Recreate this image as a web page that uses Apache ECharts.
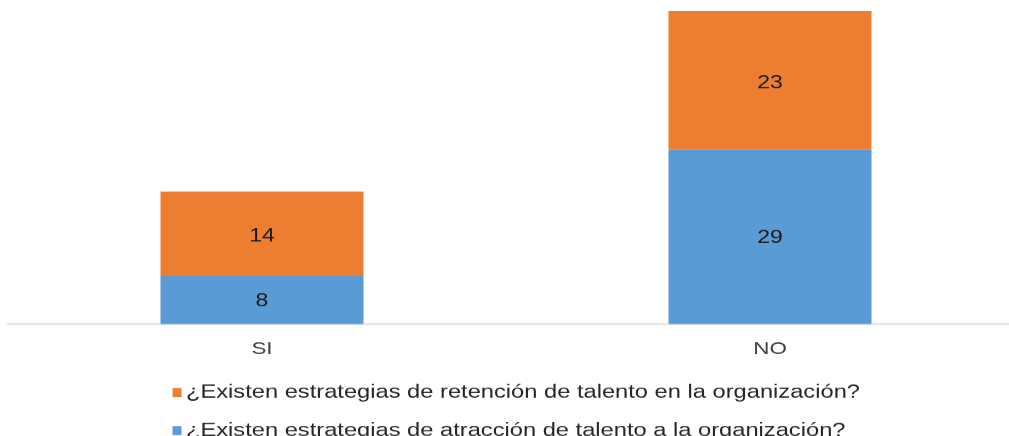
<!DOCTYPE html>
<html>
<head>
<meta charset="utf-8">
<script src="https://cdn.jsdelivr.net/npm/echarts@6/dist/echarts.min.js"></script>
<style>
  html, body { margin: 0; padding: 0; background: #ffffff; overflow: hidden; }
  body { width: 1009px; height: 436px; }
  /* the chart is laid out narrow and widened horizontally */
  #chart { width: 800px; height: 436px; transform: scaleX(1.28); transform-origin: 0 0; }
</style>
</head>
<body>
<div id="chart"></div>
<script>
// Categories and stacked counts
const categories = ['SI', 'NO'];
const atraccion = [8, 29];   // ¿Existen estrategias de atracción de talento a la organización?
const retencion = [14, 23];  // ¿Existen estrategias de retención de talento en la organización?
const seriesNames = [
  '¿Existen estrategias de atracción de talento a la organización?',
  '¿Existen estrategias de retención de talento en la organización?'
];

const FONT = '"Liberation Sans", Arial, sans-serif';
const legendText = { fontFamily: FONT, fontSize: 18.5, color: '#262626', padding: [0, 0, 0, -1.5] };

const chart = echarts.init(document.getElementById('chart'), null, { devicePixelRatio: 1.28 });
chart.setOption({
  animation: false,
  textStyle: { fontFamily: FONT },
  grid: { left: 6.25, top: 11, right: 0, bottom: 112, containLabel: false },
  legend: [
    {
      left: 129.8, top: 378, itemWidth: 7, itemHeight: 9, icon: 'rect',
      data: [seriesNames[1]], textStyle: legendText
    },
    {
      left: 129.8, top: 416, itemWidth: 7, itemHeight: 9, icon: 'rect',
      data: [seriesNames[0]], textStyle: legendText
    }
  ],
  xAxis: {
    type: 'category',
    data: categories,
    axisLine: { lineStyle: { color: '#e3e3e3', width: 2 } },
    axisTick: { show: false },
    axisLabel: { fontFamily: FONT, fontSize: 17.5, color: '#404040', margin: 16 }
  },
  yAxis: {
    type: 'value',
    min: 0,
    max: 52,
    show: false,
    splitLine: { show: false }
  },
  series: [
    {
      name: seriesNames[0],
      type: 'bar',
      stack: 'total',
      data: atraccion,
      barWidth: 158.6,
      itemStyle: { color: '#5B9BD5' },
      label: { show: true, position: 'inside', offset: [0, 1], fontFamily: FONT, fontSize: 18, color: '#1a1a1a' }
    },
    {
      name: seriesNames[1],
      type: 'bar',
      stack: 'total',
      data: retencion,
      barWidth: 158.6,
      itemStyle: { color: '#ED7D31' },
      label: { show: true, position: 'inside', offset: [0, 3], fontFamily: FONT, fontSize: 18, color: '#1a1a1a' }
    }
  ]
});
</script>
</body>
</html>
